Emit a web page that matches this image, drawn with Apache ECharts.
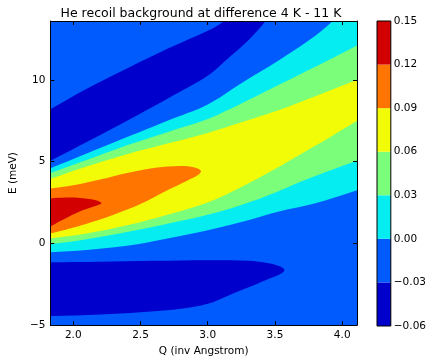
<!DOCTYPE html>
<html><head><meta charset="utf-8">
<script src="https://cdn.jsdelivr.net/npm/echarts@6/dist/echarts.min.js"></script>
<style>html,body{margin:0;padding:0;background:#fff}#c{width:429px;height:362px}</style>
</head><body><div id="c"></div>
<script>
// ---- data ----
const titleText = 'He recoil background at difference 4 K - 11 K';
const qTicks = [2.0, 2.5, 3.0, 3.5, 4.0];
const eTicks = [-5, 0, 5, 10];
const levels = [-0.06, -0.03, 0.00, 0.03, 0.06, 0.09, 0.12, 0.15];
const bandColors = ['#0000cc', '#005bff', '#06edf1', '#7bff7b', '#f1fc06', '#ff7500', '#d20000'];

// contour regions (Q, E) — superlevel sets
const baseRegion = [[1.75,-5.6],[4.2,-5.6],[4.2,14.2],[1.75,14.2]]; // -0.03..0.00
const upperNegRegion = [[1.75,7.85],[1.83,8.2],[2.1,9.45],[2.4,10.7],[2.7,11.9],[3.0,13.0],[3.12,13.6],[3.17,14.2],
  [3.47,14.2],[3.43,13.6],[3.3,12.4],[3.15,11.3],[3.0,10.25],[2.7,8.85],[2.4,7.5],[2.1,6.2],[1.83,5.05],[1.75,4.75]];
const lowerNegRegion = [[1.65,-1.15],[1.83,-1.15],[2.2,-1.12],[2.6,-1.07],[3.0,-1.03],[3.3,-1.07],[3.45,-1.22],[3.54,-1.42],[3.57,-1.65],
  [3.53,-1.92],[3.43,-2.25],[3.3,-2.7],[3.15,-3.2],[3.0,-3.7],[2.8,-4.0],[2.5,-4.22],[2.2,-4.35],[1.83,-4.45],[1.65,-4.47]];
const cyanRegion = [[1.75,4.35],[1.83,4.6],[2.1,5.5],[2.4,6.5],[2.7,7.5],[3.0,8.5],[3.25,9.8],[3.53,11.2],[3.75,12.4],[3.93,13.6],
  [3.98,14.2],[4.2,14.2],[4.2,3.5],[4.11,3.25],[3.8,2.45],[3.53,1.95],[3.25,1.3],[3.0,0.8],[2.7,0.3],[2.4,-0.15],[2.1,-0.4],[1.83,-0.55],[1.75,-0.6]];
const greenRegion = [[1.75,4.05],[1.83,4.3],[2.1,5.1],[2.4,6.0],[2.7,6.8],[3.0,7.6],[3.25,8.55],[3.53,9.7],[3.8,10.8],[4.11,12.1],
  [4.2,12.5],[4.2,5.35],[4.11,5.07],[3.94,4.55],[3.7,3.8],[3.5,3.1],[3.25,2.35],[3.0,1.75],[2.7,1.2],[2.4,0.7],[2.1,0.25],[1.83,-0.06],[1.75,-0.15]];
const yellowRegion = [[1.75,3.75],[1.83,3.95],[2.1,4.7],[2.4,5.45],[2.7,6.1],[3.0,6.75],[3.25,7.4],[3.53,8.15],[3.8,9.0],[4.11,10.0],
  [4.2,10.3],[4.2,7.95],[4.11,7.5],[3.9,6.45],[3.7,5.5],[3.5,4.55],[3.25,3.45],[3.0,2.5],[2.7,1.75],[2.4,1.1],[2.1,0.6],[1.83,0.3],[1.75,0.22]];
const orangeRegion = [[1.75,3.25],[1.83,3.35],[2.0,3.55],[2.2,3.9],[2.4,4.3],[2.55,4.55],[2.7,4.7],[2.85,4.72],[2.92,4.6],[2.95,4.42],
  [2.93,4.2],[2.85,3.85],[2.7,3.25],[2.5,2.4],[2.3,1.75],[2.1,1.2],[1.95,0.85],[1.83,0.6],[1.75,0.45]];
const redRegion = [[1.75,2.72],[1.83,2.75],[1.95,2.8],[2.05,2.78],[2.13,2.7],[2.19,2.58],[2.21,2.45],[2.17,2.3],[2.08,2.05],
  [1.97,1.65],[1.9,1.35],[1.83,1.03],[1.75,0.75]];

const paintOrder = [
  [baseRegion, 1, 0], [upperNegRegion, 0, 0.35], [lowerNegRegion, 0, 0.35], [cyanRegion, 2, 0.35],
  [greenRegion, 3, 0.35], [yellowRegion, 4, 0.35], [orangeRegion, 5, 0.35], [redRegion, 6, 0.35]
];

// ---- chart ----
const FONT = 'DejaVu Sans';
const chart = echarts.init(document.getElementById('c'), null, {renderer: 'canvas'});
const minus = s => String(s).replace('-', '\u2212');

function regionSeries(points, bandIdx, smooth) {
  return {
    type: 'custom', xAxisIndex: 0, yAxisIndex: 0, clip: true, silent: true, z: 2,
    data: points,
    renderItem: function (params, api) {
      if (params.dataIndex !== 0) return null;
      return {
        type: 'polygon',
        shape: { points: points.map(p => api.coord(p)), smooth: smooth },
        style: { fill: bandColors[bandIdx], stroke: null }
      };
    }
  };
}

const bands = levels.slice(0, -1).map((lo, i) => [i, lo, levels[i + 1]]);

const axisCommon = {
  type: 'value', splitLine: { show: false }, z: 10,
  axisLine: { show: true, onZero: false, lineStyle: { color: '#000', width: 1 } }
};
const labelStyle = { color: '#000', fontFamily: FONT, fontSize: 10.5 };

const option = {
  animation: false,
  backgroundColor: '#fff',
  graphic: [{
    type: 'text', x: 201, y: 14, z: 20,
    style: { text: titleText, textAlign: 'center', textVerticalAlign: 'middle',
      font: '12.5px "DejaVu Sans"', fill: '#000' }
  }],
  grid: [
    { left: 45, top: 21, width: 312, height: 305, show: false },
    { left: 377, top: 21, width: 15, height: 305, show: true, borderColor: '#000', borderWidth: 1,
      backgroundColor: 'transparent', z: 10 }
  ],
  xAxis: [
    Object.assign({}, axisCommon, {
      gridIndex: 0, position: 'bottom', min: 1.83, max: 4.11,
      axisTick: { show: true, inside: true, length: 4, customValues: qTicks, lineStyle: { color: '#000' } },
      axisLabel: Object.assign({ customValues: qTicks, margin: 5, formatter: v => v.toFixed(1) }, labelStyle),
      name: 'Q (inv Angstrom)', nameLocation: 'middle', nameGap: 20, nameTextStyle: labelStyle
    }),
    Object.assign({}, axisCommon, {
      gridIndex: 0, position: 'top', min: 1.83, max: 4.11,
      axisTick: { show: true, inside: true, length: 4, customValues: qTicks, lineStyle: { color: '#000' } },
      axisLabel: { show: false }
    }),
    { type: 'value', gridIndex: 1, min: 0, max: 1, show: false }
  ],
  yAxis: [
    Object.assign({}, axisCommon, {
      gridIndex: 0, position: 'left', min: -5, max: 13.6,
      axisTick: { show: true, inside: true, length: 4, customValues: eTicks, lineStyle: { color: '#000' } },
      axisLabel: Object.assign({ customValues: eTicks, margin: 5, formatter: v => minus(v) }, labelStyle),
      name: 'E (meV)', nameLocation: 'middle', nameGap: 26, nameRotate: 90, nameTextStyle: labelStyle
    }),
    Object.assign({}, axisCommon, {
      gridIndex: 0, position: 'right', min: -5, max: 13.6,
      axisTick: { show: true, inside: true, length: 4, customValues: eTicks, lineStyle: { color: '#000' } },
      axisLabel: { show: false }
    }),
    {
      type: 'value', gridIndex: 1, position: 'right', min: levels[0], max: levels[levels.length - 1],
      splitLine: { show: false }, axisLine: { show: false }, axisTick: { show: false },
      axisLabel: Object.assign({ customValues: levels, margin: 3,
        formatter: v => minus((Math.abs(v) < 1e-9 ? 0 : v).toFixed(2)) }, labelStyle)
    }
  ],
  series: paintOrder.map(r => regionSeries(r[0], r[1], r[2])).concat([{
    type: 'custom', xAxisIndex: 2, yAxisIndex: 2, silent: true, z: 2,
    data: bands,
    renderItem: function (params, api) {
      const tl = api.coord([0, api.value(2)]);
      const br = api.coord([1, api.value(1)]);
      return { type: 'rect', shape: { x: tl[0], y: tl[1], width: br[0] - tl[0], height: br[1] - tl[1] },
        style: { fill: bandColors[api.value(0)] } };
    }
  }])
};
chart.setOption(option);
</script></body></html>
